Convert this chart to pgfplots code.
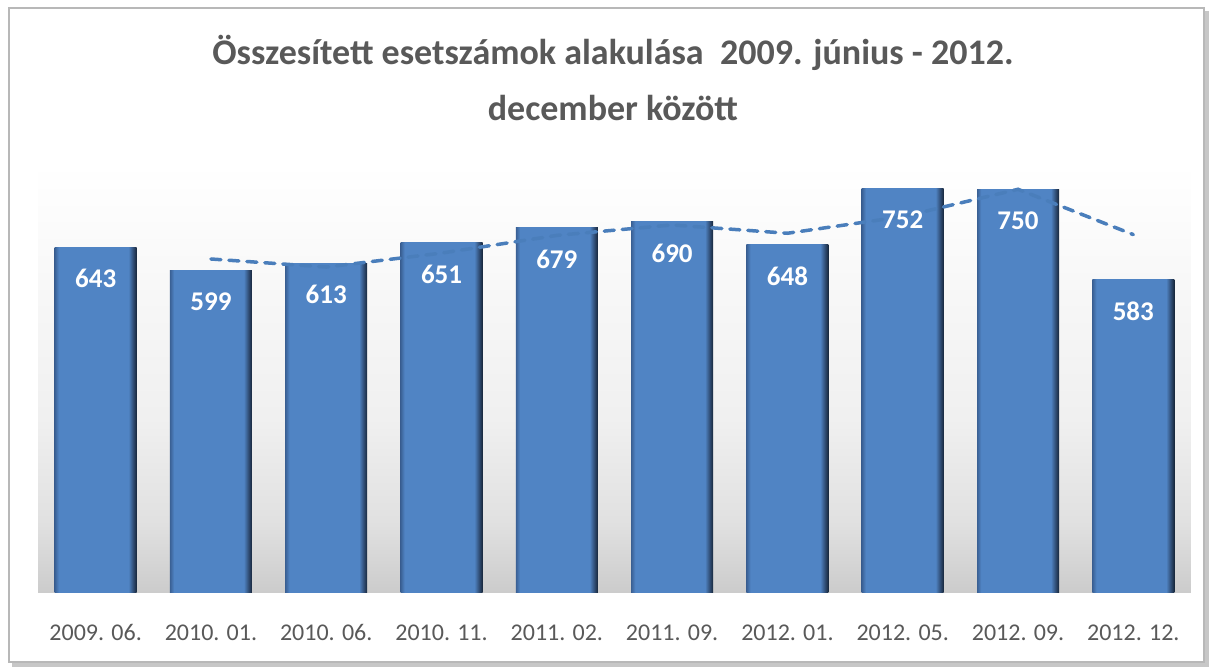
\documentclass[border=0pt]{standalone}
\usepackage{fontspec}
\setmainfont{Carlito}
\usepackage{pgfplots}
\pgfplotsset{compat=1.18}
\definecolor{titlegray}{HTML}{595959}
\definecolor{barleft}{HTML}{3A6094}
\definecolor{barbody}{HTML}{5084C4}
\definecolor{bardark}{HTML}{2E4A70}
\definecolor{barvdark}{HTML}{17263A}
\definecolor{trend}{HTML}{4A7EBB}
\pgfdeclarehorizontalshading{barsh}{100bp}{color(0bp)=(barleft); color(25bp)=(barleft); color(27.5bp)=(barbody); color(70bp)=(barbody); color(73bp)=(bardark); color(75bp)=(barvdark); color(100bp)=(barvdark)}
\pgfdeclareverticalshading{floor}{100bp}{color(0bp)=(black!20); color(25bp)=(black!20); color(33bp)=(black!12); color(45bp)=(black!6); color(60bp)=(black!3); color(75bp)=(white); color(100bp)=(white)}
\pgfplotsset{mybar/.style={ybar, bar width=82pt, bar shift=0pt, draw=none, shading=barsh,
  nodes near coords,
  every node near coord/.append style={anchor=north, yshift=-22pt, inner sep=0pt, text=white, font=\bfseries\fontsize{27}{27}\selectfont}}}
\begin{document}
\begin{tikzpicture}[x=1pt,y=1pt]
\path (0,0) rectangle (1215,670);
\fill[black!22] (12,3) rectangle (1209,659);
\draw[black!28, line width=1.5pt, fill=white] (9,8) rectangle (1204,662);
\node[font=\bfseries\fontsize{36}{56}\selectfont, text=titlegray, align=center] at (613,592) {Összesített esetszámok alakulása\ \ 2009. június - 2012.\\december között};
\begin{axis}[
  at={(38pt,78pt)}, anchor=south west,
  scale only axis, width=1153pt, height=429pt,
  xmin=-0.5, xmax=9.5, ymin=0, ymax=800,
  hide y axis,
  axis x line*=bottom,
  x axis line style={draw=none},
  xtick={0,...,9},
  xticklabels={2009. 06.,2010. 01.,2010. 06.,2010. 11.,2011. 02.,2011. 09.,2012. 01.,2012. 05.,2012. 09.,2012. 12.},
  xtick style={draw=none},
  xticklabel style={font=\fontsize{24}{24}\selectfont, text=titlegray, anchor=base, yshift=-48pt},
  /pgf/number format/assume math mode=true,
  axis background/.style={shading=floor},
  clip=false,
]
\addplot[mybar] coordinates {(0,643)};
\addplot[mybar] coordinates {(1,599)};
\addplot[mybar] coordinates {(2,613)};
\addplot[mybar] coordinates {(3,651)};
\addplot[mybar] coordinates {(4,679)};
\addplot[mybar] coordinates {(5,690)};
\addplot[mybar] coordinates {(6,648)};
\addplot[mybar] coordinates {(7,752)};
\addplot[mybar] coordinates {(8,750)};
\addplot[mybar] coordinates {(9,583)};
\addplot[trend, line width=3.5pt, line cap=round, dash pattern=on 10pt off 8pt, no marks]
  coordinates {(1,621) (2,606) (3,632) (4,665) (5,684.5) (6,669) (7,700) (8,751) (9,666.5)};
\end{axis}
\end{tikzpicture}
\end{document}
